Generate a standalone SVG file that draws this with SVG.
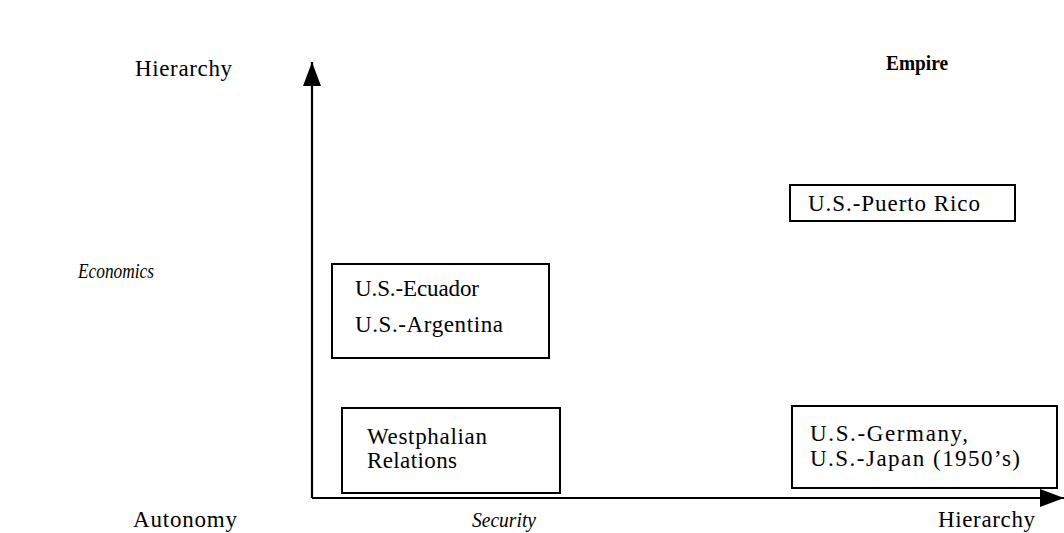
<svg xmlns="http://www.w3.org/2000/svg" width="1064" height="533" viewBox="0 0 1064 533">
<style>
text{font-family:"Liberation Serif","Times New Roman",serif;font-size:23px;fill:#000}
.it{font-style:italic;font-size:20px}
.b{font-weight:bold;font-size:21px}
.box{fill:#fff;stroke:#000;stroke-width:2}
.ax{stroke:#000;stroke-width:2.2;fill:none}
</style>
<defs>
<marker id="av" markerWidth="24" markerHeight="18" refX="24" refY="9" orient="auto" markerUnits="userSpaceOnUse">
<path d="M0,0 L24,9 L0,18 Z" fill="#000"/>
</marker>
</defs>
<g id="connectors">
<path class="ax" d="M312,498 L312,62" marker-end="url(#av)"/>
<path class="ax" d="M312,498 L1064,498" marker-end="url(#av)"/>
</g>
<g id="labels">
<text x="135" y="76" textLength="97" lengthAdjust="spacing">Hierarchy</text>
<text class="b" x="886" y="70" textLength="62" lengthAdjust="spacingAndGlyphs">Empire</text>
<text class="it" x="78" y="278" textLength="76" lengthAdjust="spacingAndGlyphs">Economics</text>
<text x="133" y="527" textLength="104" lengthAdjust="spacing">Autonomy</text>
<text class="it" x="472" y="527" textLength="64" lengthAdjust="spacingAndGlyphs">Security</text>
<text x="938" y="527" textLength="97" lengthAdjust="spacing">Hierarchy</text>
</g>
<g id="puerto-rico">
<rect class="box" x="790" y="185" width="225" height="36"/>
<text x="808" y="211" textLength="172" lengthAdjust="spacing">U.S.-Puerto Rico</text>
</g>
<g id="ecuador-argentina">
<rect class="box" x="332" y="264" width="217" height="94"/>
<text x="355" y="296" textLength="124" lengthAdjust="spacing">U.S.-Ecuador</text>
<text x="355" y="332" textLength="148" lengthAdjust="spacing">U.S.-Argentina</text>
</g>
<g id="westphalian">
<rect class="box" x="342" y="408" width="218" height="85"/>
<text x="367" y="444" textLength="120" lengthAdjust="spacing">Westphalian</text>
<text x="367" y="468" textLength="90" lengthAdjust="spacing">Relations</text>
</g>
<g id="germany-japan">
<rect class="box" x="792" y="406" width="265" height="82"/>
<text x="810" y="441" textLength="158" lengthAdjust="spacing">U.S.-Germany,</text>
<text x="810" y="466" textLength="210" lengthAdjust="spacing">U.S.-Japan (1950’s)</text>
</g>
</svg>
